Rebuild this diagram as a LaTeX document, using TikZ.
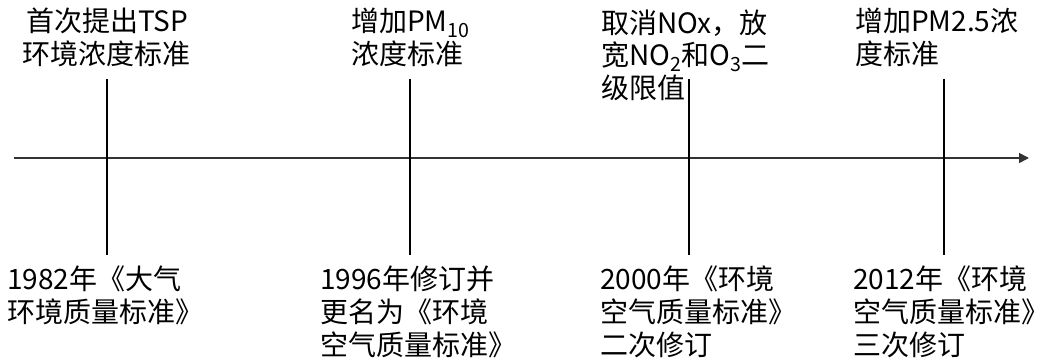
\documentclass[tikz,border=0pt]{standalone}
\usepackage{fontspec}
\newfontfamily\cjk{Noto Sans CJK SC}
\usetikzlibrary{arrows.meta}
\tikzset{
  lbl/.style={font=\cjk\fontsize{28}{33}\selectfont, inner sep=0pt, align=left, text=black},
  tick/.style={line width=1.6pt, black},
  axis/.style={line width=1.6pt, black!80, -{Triangle[length=10pt,width=10pt]}}
}
\begin{document}
\begin{tikzpicture}[x=1pt,y=-1pt]
\useasboundingbox (0,0) rectangle (1044,361);
% axis
\coordinate (s) at (14,158);
\coordinate (e) at (1029,158);
\draw[axis] (s) -- (e);
% ticks
\foreach \n/\x in {1/107,2/410,3/689,4/944}{
  \coordinate (t\n a) at (\x,79);
  \coordinate (t\n b) at (\x,255);
  \draw[tick] (t\n a) -- (t\n b);
}
% top labels (base = baseline of last line)
\node[lbl, align=center, anchor=base] (u1) at (107,65) {首次提出TSP\\环境浓度标准};
\node[lbl, anchor=base west] (u2) at (351,65) {增加PM\textsubscript{10}\\浓度标准};
\node[lbl, anchor=base west] (u3) at (601,99) {取消NOx，放\\宽NO\textsubscript{2}和O\textsubscript{3}二\\级限值};
\node[lbl, anchor=base west] (u4) at (855,65) {增加PM2.5浓\\度标准};
% bottom labels
\node[lbl, anchor=base west] (d1) at (7,322) {1982年《大气\\环境质量标准》};
\node[lbl, anchor=base west] (d2) at (320,355) {1996年修订并\\更名为《环境\\空气质量标准》};
\node[lbl, anchor=base west] (d3) at (600,355) {2000年《环境\\空气质量标准》\\二次修订};
\node[lbl, anchor=base west] (d4) at (853,355) {2012年《环境\\空气质量标准》\\三次修订};
\end{tikzpicture}
\end{document}
